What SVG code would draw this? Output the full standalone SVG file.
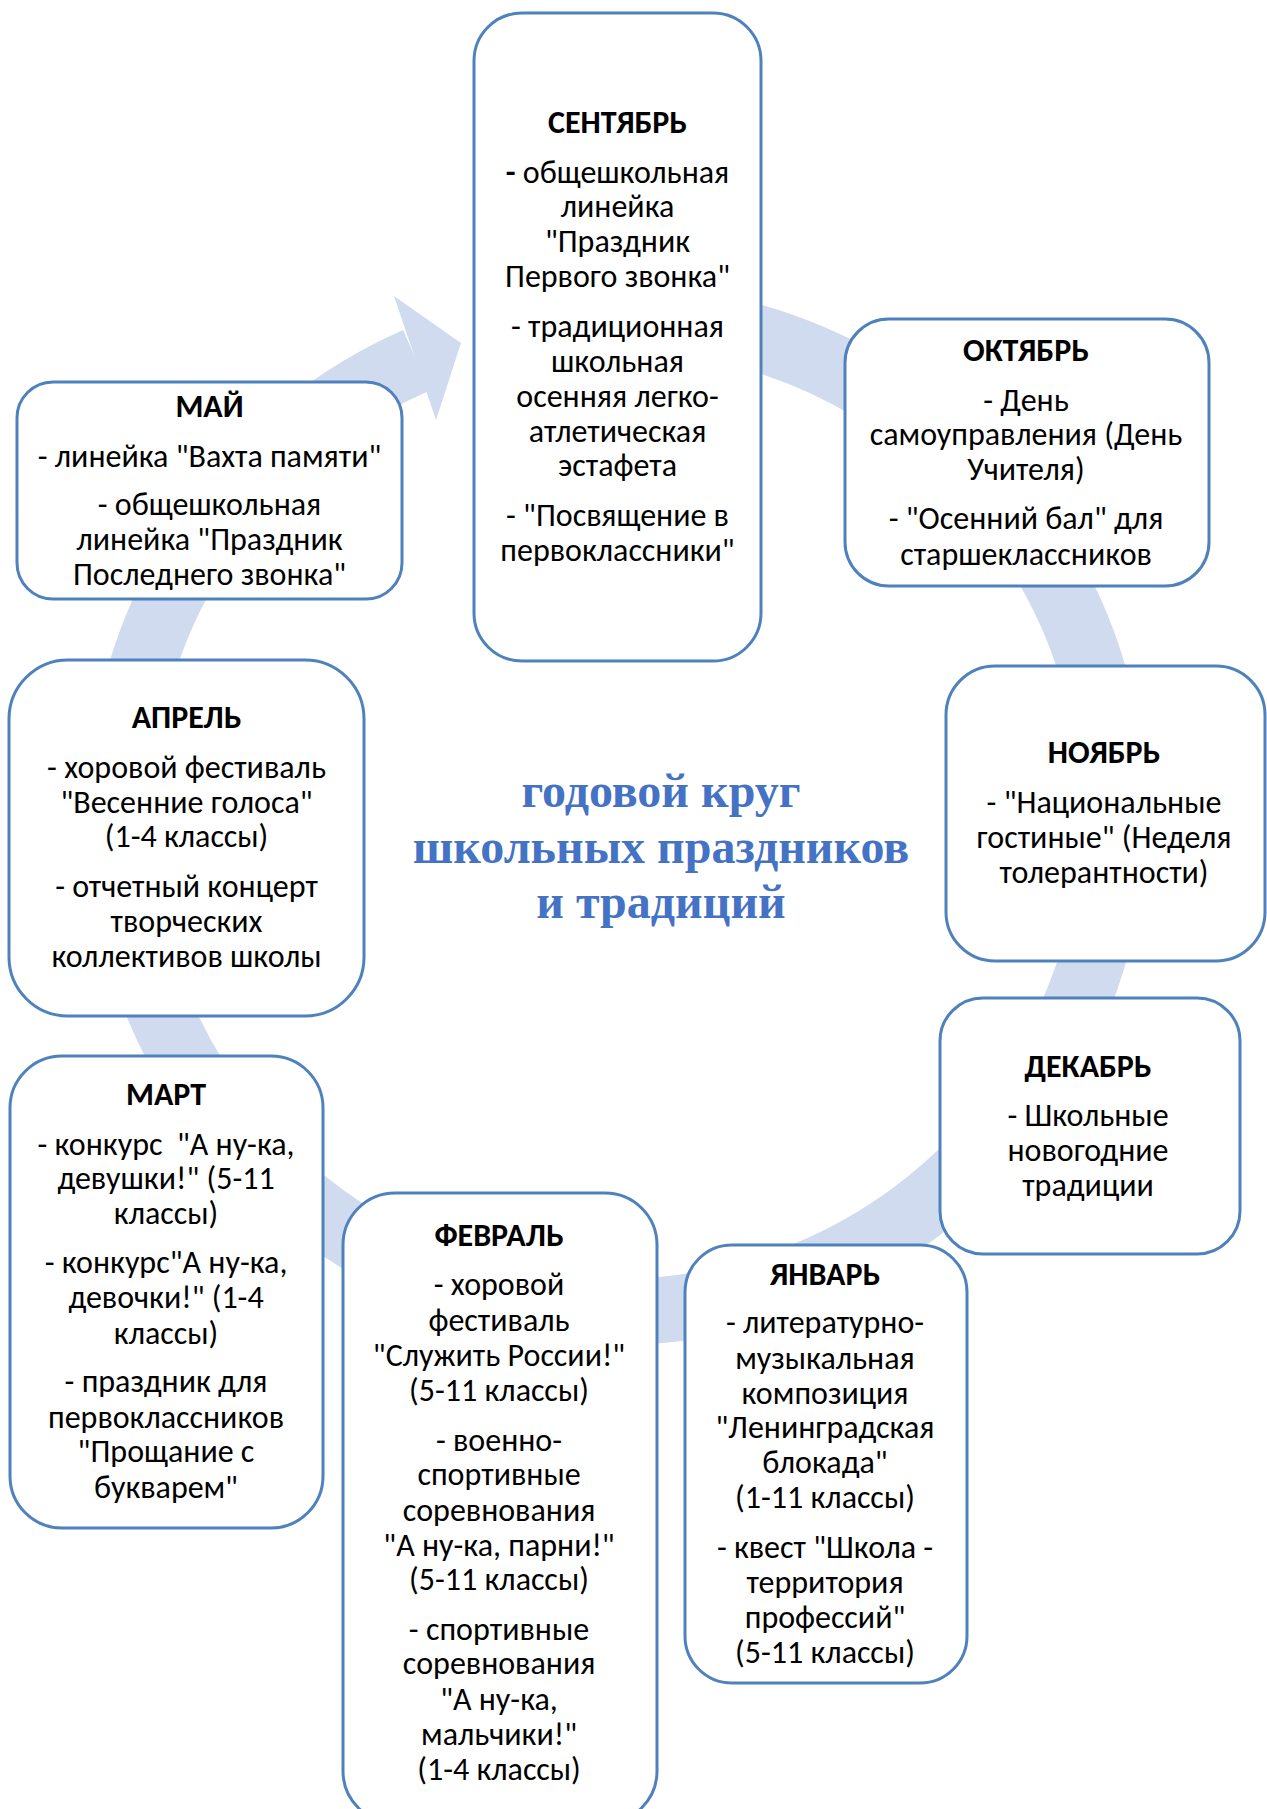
<svg xmlns="http://www.w3.org/2000/svg" width="1267" height="1809" viewBox="0 0 1267 1809">
<style>
.box{fill:#ffffff;stroke:#4F81BD;stroke-width:3}
.t{font-family:Carlito,Calibri,"Liberation Sans",sans-serif;font-size:32px;fill:#000;text-anchor:middle}
.h{font-weight:bold}
.title{font-family:"Liberation Serif","Times New Roman",serif;font-weight:bold;font-size:48px;fill:#4472C4;text-anchor:middle}
</style>
<rect width="1267" height="1809" fill="#ffffff"/>
<g id="connectors">
<path d="M 660.3 319.9 A 497 497 0 1 1 416.4 360.2" fill="none" stroke="#D0DBEF" stroke-width="66"/>
<polygon points="394,296 461,343 436,420" fill="#D0DBEF"/>
</g>
<g id="title">
<text class="title" x="661" y="807">годовой круг</text>
<text class="title" x="661" y="863">школьных праздников</text>
<text class="title" x="661" y="918">и традиций</text>
</g>
<g id="september">
<rect class="box" x="474" y="13" width="287" height="648" rx="48"/>
<text class="t h" x="617.5" y="133">СЕНТЯБРЬ</text>
<text class="t" x="617.5" y="183"><tspan font-weight="bold">-</tspan> общешкольная</text>
<text class="t" x="617.5" y="217">линейка</text>
<text class="t" x="617.5" y="252">"Праздник</text>
<text class="t" x="617.5" y="287">Первого звонка"</text>
<text class="t" x="617.5" y="337">- традиционная</text>
<text class="t" x="617.5" y="372">школьная</text>
<text class="t" x="617.5" y="407">осенняя легко-</text>
<text class="t" x="617.5" y="442">атлетическая</text>
<text class="t" x="617.5" y="476">эстафета</text>
<text class="t" x="617.5" y="526">- "Посвящение в</text>
<text class="t" x="617.5" y="561">первоклассники"</text>
</g>
<g id="october">
<rect class="box" x="845" y="319" width="364" height="267" rx="44"/>
<text class="t h" x="1026" y="361">ОКТЯБРЬ</text>
<text class="t" x="1026" y="411">- День</text>
<text class="t" x="1026" y="445">самоуправления (День</text>
<text class="t" x="1026" y="480">Учителя)</text>
<text class="t" x="1026" y="529">- "Осенний бал" для</text>
<text class="t" x="1026" y="565">старшеклассников</text>
</g>
<g id="november">
<rect class="box" x="946" y="666" width="319" height="295" rx="49"/>
<text class="t h" x="1104" y="763">НОЯБРЬ</text>
<text class="t" x="1104" y="813">- "Национальные</text>
<text class="t" x="1104" y="848">гостиные" (Неделя</text>
<text class="t" x="1104" y="883">толерантности)</text>
</g>
<g id="december">
<rect class="box" x="940" y="998" width="300" height="256" rx="43"/>
<text class="t h" x="1088" y="1077">ДЕКАБРЬ</text>
<text class="t" x="1088" y="1126">- Школьные</text>
<text class="t" x="1088" y="1161">новогодние</text>
<text class="t" x="1088" y="1196">традиции</text>
</g>
<g id="january">
<rect class="box" x="685" y="1245" width="282" height="438" rx="47"/>
<text class="t h" x="825" y="1285">ЯНВАРЬ</text>
<text class="t" x="825" y="1333">- литературно-</text>
<text class="t" x="825" y="1369">музыкальная</text>
<text class="t" x="825" y="1404">композиция</text>
<text class="t" x="825" y="1438">"Ленинградская</text>
<text class="t" x="825" y="1473">блокада"</text>
<text class="t" x="825" y="1508">(1-11 классы)</text>
<text class="t" x="825" y="1558">- квест "Школа -</text>
<text class="t" x="825" y="1593">территория</text>
<text class="t" x="825" y="1628">профессий"</text>
<text class="t" x="825" y="1663">(5-11 классы)</text>
</g>
<g id="february">
<rect class="box" x="343" y="1193" width="314" height="630" rx="52"/>
<text class="t h" x="499" y="1246">ФЕВРАЛЬ</text>
<text class="t" x="499" y="1295">- хоровой</text>
<text class="t" x="499" y="1331">фестиваль</text>
<text class="t" x="499" y="1366">"Служить России!"</text>
<text class="t" x="499" y="1401">(5-11 классы)</text>
<text class="t" x="499" y="1451">- военно-</text>
<text class="t" x="499" y="1485">спортивные</text>
<text class="t" x="499" y="1521">соревнования</text>
<text class="t" x="499" y="1556">"А ну-ка, парни!"</text>
<text class="t" x="499" y="1590">(5-11 классы)</text>
<text class="t" x="499" y="1640">- спортивные</text>
<text class="t" x="499" y="1674">соревнования</text>
<text class="t" x="499" y="1710">"А ну-ка,</text>
<text class="t" x="499" y="1745">мальчики!"</text>
<text class="t" x="499" y="1780">(1-4 классы)</text>
</g>
<g id="march">
<rect class="box" x="10" y="1056" width="313" height="472" rx="52"/>
<text class="t h" x="166" y="1105">МАРТ</text>
<text class="t" x="166" y="1155" xml:space="preserve">- конкурс  "А ну-ка,</text>
<text class="t" x="166" y="1189">девушки!" (5-11</text>
<text class="t" x="166" y="1224">классы)</text>
<text class="t" x="166" y="1273">- конкурс"А ну-ка,</text>
<text class="t" x="166" y="1308">девочки!" (1-4</text>
<text class="t" x="166" y="1344">классы)</text>
<text class="t" x="166" y="1392">- праздник для</text>
<text class="t" x="166" y="1428">первоклассников</text>
<text class="t" x="166" y="1462">"Прощание с</text>
<text class="t" x="166" y="1498">букварем"</text>
</g>
<g id="april">
<rect class="box" x="9" y="660" width="355" height="356" rx="59"/>
<text class="t h" x="186.5" y="728">АПРЕЛЬ</text>
<text class="t" x="186.5" y="778">- хоровой фестиваль</text>
<text class="t" x="186.5" y="813">"Весенние голоса"</text>
<text class="t" x="186.5" y="847">(1-4 классы)</text>
<text class="t" x="186.5" y="897">- отчетный концерт</text>
<text class="t" x="186.5" y="932">творческих</text>
<text class="t" x="186.5" y="967">коллективов школы</text>
</g>
<g id="may">
<rect class="box" x="17" y="382" width="385" height="217" rx="36"/>
<text class="t h" x="209.5" y="417">МАЙ</text>
<text class="t" x="209.5" y="467">- линейка "Вахта памяти"</text>
<text class="t" x="209.5" y="515">- общешкольная</text>
<text class="t" x="209.5" y="550">линейка "Праздник</text>
<text class="t" x="209.5" y="585">Последнего звонка"</text>
</g>
</svg>
